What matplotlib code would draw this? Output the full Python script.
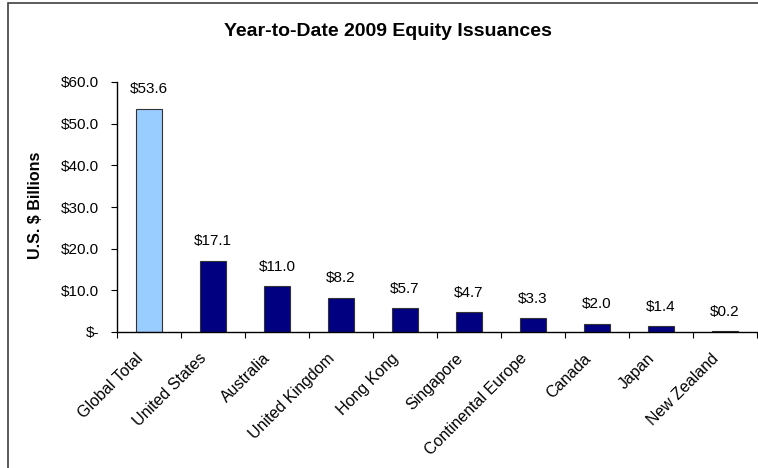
import matplotlib.pyplot as plt
from matplotlib.patches import Rectangle

# -------------------------------------------------
# DATA
# -------------------------------------------------
categories = ["Global Total", "United States", "Australia", "United Kingdom",
              "Hong Kong", "Singapore", "Continental Europe", "Canada",
              "Japan", "New Zealand"]
values = [53.6, 17.1, 11.0, 8.2, 5.7, 4.7, 3.3, 2.0, 1.4, 0.2]
y_ticks = [0, 10, 20, 30, 40, 50, 60]
y_tick_labels = ["$-", "$10.0", "$20.0", "$30.0", "$40.0", "$50.0", "$60.0"]

plt.rcParams['font.family'] = ['Liberation Sans', 'DejaVu Sans']

fig = plt.figure(figsize=(7.58, 4.68), dpi=100)
ax = fig.add_axes([117 / 758, 1 - 332 / 468, 640 / 758, 250 / 468])

colors = ["#99CCFF"] + ["#000080"] * (len(values) - 1)
x = range(len(categories))
ax.bar(x, values, width=0.41, color=colors, edgecolor="#333333", linewidth=0.8)

for xi, v in zip(x, values):
    ax.text(xi, v + 3.0, f"${v:.1f}", ha="center", va="bottom", fontsize=11)

ax.set_xlim(-0.5, len(categories) - 0.5)
ax.set_ylim(0, 60)
ax.set_yticks(y_ticks)
ax.set_yticklabels(y_tick_labels, fontsize=11)
ax.tick_params(axis="y", length=4, pad=9)

# category ticks sit between the bars
ax.set_xticks([i - 0.5 for i in range(len(categories) + 1)])
ax.set_xticklabels([])
ax.tick_params(axis="x", length=4, direction="out")
for xi, name in zip(x, categories):
    ax.text(xi - 0.22, -4.5, name, rotation=45, ha="right", va="top",
            rotation_mode="anchor", fontsize=11.5)

for side in ["top", "right"]:
    ax.spines[side].set_visible(False)
ax.spines["left"].set_linewidth(1.0)
ax.spines["bottom"].set_linewidth(1.0)

fig.text(35 / 758, 1 - 205 / 468, "U.S. $ Billions", rotation=90,
         ha="center", va="center", fontsize=11.5, fontweight="bold")
fig.text(388 / 758, 1 - 32 / 468, "Year-to-Date 2009 Equity Issuances",
         ha="center", va="center", fontsize=14, fontweight="bold")

# outer chart border (right/bottom fall outside the image)
fig.patches.append(Rectangle((8 / 758, -0.1), 1.2, 1 - 3 / 468 + 0.1,
                             transform=fig.transFigure, fill=False,
                             edgecolor="#404040", linewidth=1.2))

fig.savefig("out.png", dpi=100)
